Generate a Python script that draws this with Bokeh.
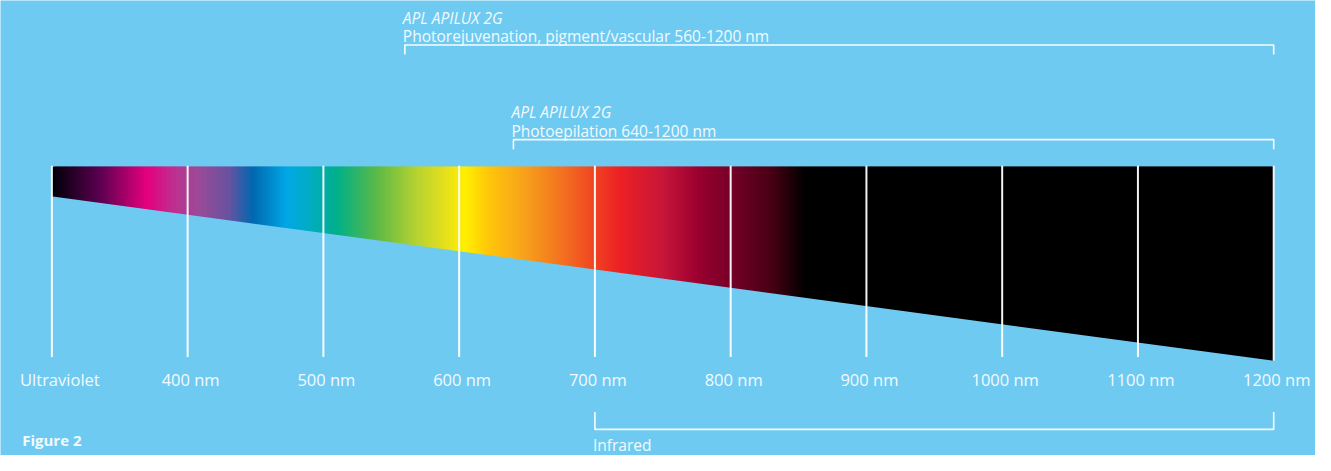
import numpy as np
from bokeh.plotting import figure
from bokeh.models import Range1d, Label, ColumnDataSource
from bokeh.core.properties import value
from bokeh.embed import file_html
from bokeh.resources import INLINE

# ---------------- data ----------------
tick_nm = [300, 400, 500, 600, 700, 800, 900, 1000, 1100, 1200]
tick_labels = ["Ultraviolet", "400 nm", "500 nm", "600 nm", "700 nm", "800 nm",
               "900 nm", "1000 nm", "1100 nm", "1200 nm"]

range_start = [560, 640, 700]
range_end = [1200, 1200, 1200]
range_titles = ["APL APILUX 2G", "APL APILUX 2G", ""]
range_names = ["Photorejuvenation, pigment/vascular 560-1200 nm",
               "Photoepilation 640-1200 nm", "Infrared"]

# colour stops of the spectrum band (wavelength nm -> colour)
spectrum_nm = [300, 335, 370, 389, 408, 430, 448, 473, 491, 510, 539, 568,
               590, 604, 622, 648, 677, 718, 750, 777, 801, 830, 855, 1200]
spectrum_colors = ["#000008", "#5a004f", "#e5007d", "#c02e8e", "#9b4a98", "#6a52a0",
                   "#0068b0", "#00a8e6", "#00adc0", "#00b08a", "#5bb947", "#b5d232",
                   "#e6e01b", "#fff000", "#ffc60b", "#f7a21b", "#f36f21", "#ed2124",
                   "#c8163a", "#99002f", "#740028", "#480015", "#000000", "#000000"]

# ---------------- style ----------------
BG = "#6fcaf1"
TXT = "#f2fafe"
FONT = "Open Sans"
W, H = 1315, 455


def hex2rgb(h):
    h = h.lstrip("#")
    return np.array([int(h[i:i + 2], 16) for i in (0, 2, 4)], dtype=float)


stop_rgb = np.array([hex2rgb(c) for c in spectrum_colors])

p = figure(width=W, height=H,
           x_range=Range1d(262.16, 1230.79), y_range=Range1d(471, 0),
           output_backend="svg", toolbar_location=None, min_border=0)
p.axis.visible = False
p.grid.visible = False
p.outline_line_color = None
p.background_fill_color = BG
p.border_fill_color = BG

# spectrum band: thin overlapping slices coloured along the stops
band_top, band_bot_left, band_bot_right = 172, 202.5, 373
lo, hi = tick_nm[0], tick_nm[-1]
step = 1.0
lefts = np.arange(lo, hi, step)
mids = lefts + step / 2
cols = []
for m in mids:
    r = np.interp(m, spectrum_nm, stop_rgb[:, 0])
    g = np.interp(m, spectrum_nm, stop_rgb[:, 1])
    b = np.interp(m, spectrum_nm, stop_rgb[:, 2])
    cols.append("#%02x%02x%02x" % (int(round(r)), int(round(g)), int(round(b))))
rights = np.minimum(lefts + step * 3.2, hi)
p.quad(left=lefts, right=rights, top=band_top, bottom=band_bot_right,
       fill_color=cols, line_color=None)

# mask below the slanted lower edge
p.patch(x=[lo - 2, hi, hi + 1, lo - 2], y=[band_bot_left, band_bot_right, 380, 380],
        fill_color=BG, line_color=None)

# vertical white lines
y_end = [373 if t == hi else 369 for t in tick_nm]
p.segment(x0=tick_nm, x1=tick_nm, y0=171, y1=y_end, line_color="white",
          line_width=2, line_alpha=0.95)

# tick labels
dx = [8 if t == lo else (3 if t == hi else 3) for t in tick_nm]
src = ColumnDataSource(dict(x=tick_nm, t=tick_labels, dx=dx))
p.text(x="x", y=392, text="t", x_offset="dx", source=src, text_align="center",
       text_baseline="middle", text_color=TXT, text_font=value(FONT),
       text_font_size="16.5px")

# range brackets
bracket_h = [46, 144, 444]
bracket_t = [56, 154, 426]
xs, ys = [], []
for s, e, yh, yt in zip(range_start, range_end, bracket_h, bracket_t):
    xs.append([s, s, e, e])
    ys.append([yt, yh, yh, yt])
p.multi_line(xs=xs, ys=ys, line_color="white", line_width=1.6, line_alpha=0.95)

# range texts
title_y = [18, 115]
name_y = [37, 135, 460]
p.text(x=range_start[:2], y=title_y, text=range_titles[:2], x_offset=-2,
       text_align="left", text_baseline="middle", text_color=TXT,
       text_font=value(FONT), text_font_style="italic", text_font_size="15.5px")
p.text(x=range_start, y=name_y, text=range_names, x_offset=-2,
       text_align="left", text_baseline="middle", text_color=TXT,
       text_font=value(FONT), text_font_size="15.5px")

p.add_layout(Label(x=21.7, x_units="screen", y=455, y_units="data", text="Figure 2",
                   text_align="left", text_baseline="middle", text_color=TXT,
                   text_font=FONT, text_font_style="bold", text_font_size="15px"))

open("out.html", "w").write(file_html(p, INLINE))
